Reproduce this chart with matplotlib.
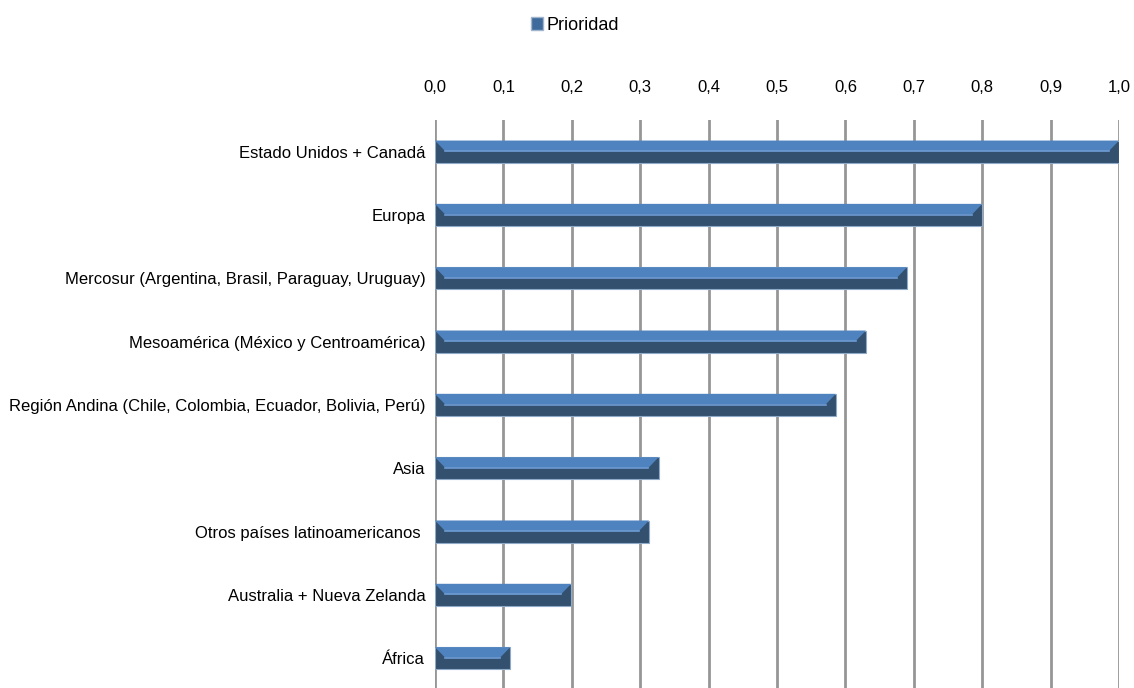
import matplotlib
matplotlib.use("Agg")
import matplotlib.pyplot as plt
from matplotlib.patches import Polygon, Patch

# Data
categories = [
    "Estado Unidos + Canadá",
    "Europa",
    "Mercosur (Argentina, Brasil, Paraguay, Uruguay)",
    "Mesoamérica (México y Centroamérica)",
    "Región Andina (Chile, Colombia, Ecuador, Bolivia, Perú)",
    "Asia",
    "Otros países latinoamericanos ",
    "Australia + Nueva Zelanda",
    "África",
]
prioridad = [1.0, 0.80, 0.69, 0.63, 0.586, 0.327, 0.313, 0.199, 0.11]
xticks = [0.0, 0.1, 0.2, 0.3, 0.4, 0.5, 0.6, 0.7, 0.8, 0.9, 1.0]

plt.rcParams['font.family'] = ['Liberation Sans', 'DejaVu Sans']

light = "#4f83bf"
dark = "#33506f"
mid_line = "#6e9bd2"

fig = plt.figure(figsize=(11.34, 6.88), dpi=100)
ax = fig.add_axes([0.3836, 0.0, 0.6032, 0.8256])

ypos = list(range(len(categories)))
h = 0.35
bev = 0.015

# base bar (dark)
ax.barh(ypos, prioridad, height=h, color=dark, edgecolor="#8fa9c8", linewidth=0.8, zorder=3)

# light upper bevel face for each bar
for y, v in zip(ypos, prioridad):
    top = y - h / 2
    mid = y - h * 0.02
    face = Polygon([(0, top), (v, top), (v - bev, mid), (bev, mid)],
                   closed=True, facecolor=light, edgecolor="none", zorder=4)
    ax.add_patch(face)
    ax.plot([bev, v - bev], [mid, mid], color=mid_line, linewidth=1.2, zorder=5)

ax.set_xlim(0, 1.0)
ax.set_ylim(8.47, -0.5)
ax.set_yticks(ypos)
ax.set_yticklabels(categories, fontsize=12)
ax.set_xticks(xticks)
ax.set_xticklabels([f"{t:.1f}".replace(".", ",") for t in xticks], fontsize=12)
ax.xaxis.tick_top()
ax.tick_params(axis="x", length=0, pad=18)
ax.tick_params(axis="y", length=0, pad=7)

ax.grid(True, axis="x", color="#969696", linewidth=2, zorder=0)
ax.set_axisbelow(True)
for s in ax.spines.values():
    s.set_visible(False)

fig.legend(handles=[Patch(facecolor="#3f6a9c", edgecolor="#a0b4cc", label="Prioridad")],
           loc="center", bbox_to_anchor=(0.507, 0.963), frameon=False,
           fontsize=13, handlelength=0.7, handleheight=0.7, handletextpad=0.2)

fig.savefig("out.png", dpi=100)
